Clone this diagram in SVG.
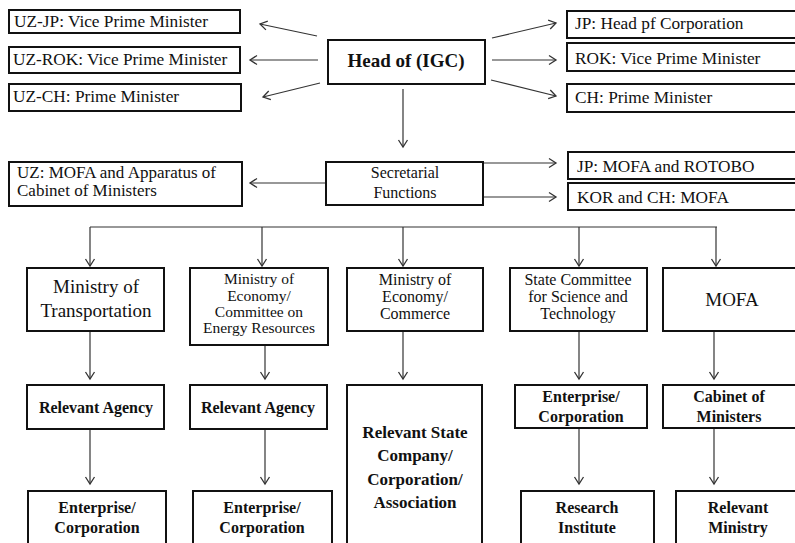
<svg xmlns="http://www.w3.org/2000/svg" width="795" height="543" viewBox="0 0 795 543">
<defs>
<style>
.box{fill:#fff;stroke:#111;stroke-width:2}
text{fill:#111}
.r17{font-size:17.3px}
.c{text-anchor:middle}
.b{font-weight:bold}
.con line{stroke:#333;stroke-width:1.2;fill:none;marker-end:url(#ah)}
</style>
<marker id="ah" markerUnits="userSpaceOnUse" markerWidth="12" markerHeight="12" viewBox="0 0 12 12" refX="10" refY="6" orient="auto">
<path d="M3,1.5 L10,6 L3,10.5" fill="none" stroke="#333" stroke-width="1.3"/>
</marker>
</defs>
<rect width="795" height="543" fill="#fff"/>

<g class="con">
<line x1="317" y1="36" x2="260" y2="24"/>
<line x1="318" y1="60" x2="250" y2="60"/>
<line x1="320" y1="83" x2="263" y2="97"/>
<line x1="492" y1="38" x2="556" y2="23"/>
<line x1="492" y1="60" x2="556" y2="60"/>
<line x1="491" y1="80" x2="556" y2="96"/>
<line x1="403" y1="89" x2="403" y2="147"/>
<line x1="326" y1="183" x2="250" y2="183"/>
<line x1="483" y1="163" x2="556" y2="163"/>
<line x1="483" y1="197" x2="556" y2="197"/>
<line x1="90" y1="227" x2="717" y2="227" style="marker-end:none"/>
<line x1="90" y1="227" x2="90" y2="266"/>
<line x1="262" y1="227" x2="262" y2="266"/>
<line x1="403" y1="227" x2="403" y2="266"/>
<line x1="579" y1="227" x2="579" y2="266"/>
<line x1="716" y1="227" x2="716" y2="266"/>
<line x1="90" y1="331" x2="90" y2="379"/>
<line x1="265" y1="345" x2="265" y2="379"/>
<line x1="403" y1="331" x2="403" y2="379"/>
<line x1="579" y1="331" x2="579" y2="379"/>
<line x1="714" y1="331" x2="714" y2="379"/>
<line x1="90" y1="429" x2="90" y2="484"/>
<line x1="265" y1="429" x2="265" y2="484"/>
<line x1="579" y1="428" x2="579" y2="484"/>
<line x1="714" y1="428" x2="714" y2="484"/>
</g>

<g font-family="Liberation Serif, DejaVu Serif, serif">
<g id="uz-jp"><rect class="box" x="9" y="10" width="231" height="23"/><text class="r17" x="14" y="27">UZ-JP: Vice Prime Minister</text></g>
<g id="uz-rok"><rect class="box" x="9" y="47" width="231" height="26"/><text class="r17" x="13" y="65">UZ-ROK: Vice Prime Minister</text></g>
<g id="uz-ch"><rect class="box" x="9" y="84" width="232" height="27"/><text class="r17" x="13" y="102">UZ-CH: Prime Minister</text></g>
<g id="head"><rect class="box" x="328" y="40" width="157" height="44"/><text class="b c" x="406" y="67" font-size="19px">Head of (IGC)</text></g>
<g id="jp-head"><rect class="box" x="567" y="11" width="240" height="27"/><text class="r17" x="575" y="29">JP: Head pf Corporation</text></g>
<g id="rok-vpm"><rect class="box" x="567" y="43" width="240" height="28"/><text class="r17" x="575" y="64">ROK: Vice Prime Minister</text></g>
<g id="ch-pm"><rect class="box" x="567" y="84" width="240" height="28"/><text class="r17" x="575" y="103">CH: Prime Minister</text></g>

<g id="uz-mofa"><rect class="box" x="9" y="162" width="233" height="44"/><text font-size="17px" x="17" y="178">UZ: MOFA and Apparatus of</text><text font-size="17px" x="17" y="196">Cabinet of Ministers</text></g>
<g id="secretarial"><rect class="box" x="326" y="162" width="157" height="43"/><text class="c" font-size="16px" x="405" y="178">Secretarial</text><text class="c" font-size="16px" x="405" y="198">Functions</text></g>
<g id="jp-mofa"><rect class="box" x="568" y="152" width="240" height="27"/><text class="r17" x="577" y="172">JP: MOFA and ROTOBO</text></g>
<g id="kor-ch-mofa"><rect class="box" x="568" y="183" width="240" height="27"/><text class="r17" x="577" y="203">KOR and CH: MOFA</text></g>

<g id="m-transport"><rect class="box" x="27" y="268" width="137" height="63"/><text class="c" font-size="19px" x="96" y="293">Ministry of</text><text class="c" font-size="19px" x="96" y="317">Transportation</text></g>
<g id="m-economy-energy"><rect class="box" x="190" y="268" width="138" height="77"/><text class="c" font-size="15.5px" x="259" y="284">Ministry of</text><text class="c" font-size="15.5px" x="259" y="301">Economy/</text><text class="c" font-size="15.5px" x="259" y="317">Committee on</text><text class="c" font-size="15.5px" x="259" y="333">Energy Resources</text></g>
<g id="m-economy-commerce"><rect class="box" x="347" y="268" width="136" height="63"/><text class="c" font-size="16px" x="415" y="285">Ministry of</text><text class="c" font-size="16px" x="415" y="302">Economy/</text><text class="c" font-size="16px" x="415" y="319">Commerce</text></g>
<g id="state-committee"><rect class="box" x="510" y="268" width="137" height="63"/><text class="c" font-size="16px" x="578" y="285">State Committee</text><text class="c" font-size="16px" x="578" y="302">for Science and</text><text class="c" font-size="16px" x="578" y="319">Technology</text></g>
<g id="mofa"><rect class="box" x="663" y="268" width="145" height="63"/><text class="c" font-size="19px" x="732" y="306">MOFA</text></g>

<g id="agency1"><rect class="box" x="27" y="385" width="137" height="44"/><text class="b c" font-size="16px" x="96" y="413">Relevant Agency</text></g>
<g id="agency2"><rect class="box" x="190" y="385" width="137" height="44"/><text class="b c" font-size="16px" x="258" y="413">Relevant Agency</text></g>
<g id="state-company"><rect class="box" x="347" y="385" width="135" height="170"/><text class="b c" font-size="17px" x="415" y="438">Relevant State</text><text class="b c" font-size="17px" x="415" y="461">Company/</text><text class="b c" font-size="17px" x="415" y="485">Corporation/</text><text class="b c" font-size="17px" x="415" y="508">Association</text></g>
<g id="enterprise-top"><rect class="box" x="515" y="385" width="132" height="43"/><text class="b c" font-size="16px" x="581" y="402">Enterprise/</text><text class="b c" font-size="16px" x="581" y="422">Corporation</text></g>
<g id="cabinet"><rect class="box" x="663" y="385" width="145" height="43"/><text class="b c" font-size="16px" x="729" y="402">Cabinet of</text><text class="b c" font-size="16px" x="729" y="422">Ministers</text></g>

<g id="enterprise1"><rect class="box" x="28" y="491" width="138" height="70"/><text class="b c" font-size="16px" x="97" y="513">Enterprise/</text><text class="b c" font-size="16px" x="97" y="533">Corporation</text></g>
<g id="enterprise2"><rect class="box" x="193" y="491" width="139" height="70"/><text class="b c" font-size="16px" x="262" y="513">Enterprise/</text><text class="b c" font-size="16px" x="262" y="533">Corporation</text></g>
<g id="research"><rect class="box" x="521" y="491" width="133" height="70"/><text class="b c" font-size="16px" x="587" y="513">Research</text><text class="b c" font-size="16px" x="587" y="533">Institute</text></g>
<g id="relevant-ministry"><rect class="box" x="676" y="491" width="132" height="70"/><text class="b c" font-size="16px" x="738" y="513">Relevant</text><text class="b c" font-size="16px" x="738" y="533">Ministry</text></g>
</g>
</svg>
